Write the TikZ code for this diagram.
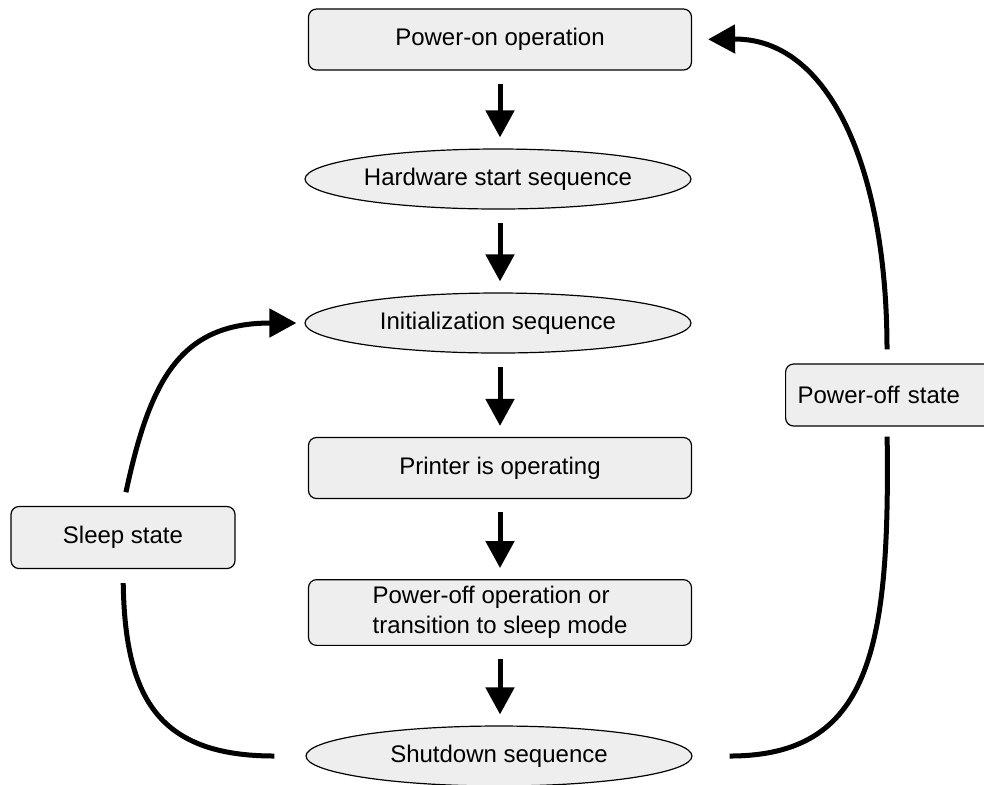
\documentclass[tikz,border=0pt]{standalone}
\usepackage{fontspec}
\setmainfont{Liberation Sans}
\usepackage{tikz}
\usetikzlibrary{shapes.geometric, arrows.meta}
\definecolor{StepGray}{HTML}{EEEEEE}
\tikzset{
  stepbox/.style={rectangle, rounded corners=4pt, draw=black, line width=0.6pt, fill=StepGray, minimum width=191.5pt, minimum height=30.5pt, font=\fontsize{12}{15}\selectfont, align=center},
  seqellipse/.style={ellipse, draw=black, line width=0.6pt, fill=StepGray, minimum width=193pt, minimum height=30pt, inner sep=0pt, font=\fontsize{12}{15}\selectfont, align=center},
  statebox/.style={rectangle, rounded corners=4pt, draw=black, line width=0.6pt, fill=StepGray, minimum height=31pt, font=\fontsize{12}{15}\selectfont},
  downarrow/.style={-{Triangle[width=14pt,length=13.5pt]}, line width=2.5pt, shorten <=6.5pt, shorten >=5.5pt},
  loopline/.style={line width=2.5pt},
  looparrow/.style={-{Triangle[width=14pt,length=13.5pt]}, line width=2.5pt}
}

\begin{document}
\begin{tikzpicture}[x=0.5pt, y=-0.5pt]
  \useasboundingbox (0,0) rectangle (984,784);

  % main sequence
  \node[stepbox] (pon) at (500,39.5) {Power-on operation};
  \node[seqellipse] (hw) at (498,179) {Hardware start sequence};
  \node[seqellipse] (init) at (498,323) {Initialization sequence};
  \node[stepbox] (oper) at (500,468) {Printer is operating};
  \node[stepbox, align=left] (poff) at (500,612.5) {Power-off operation or\\transition to sleep mode};
  \node[seqellipse] (shut) at (499,756) {Shutdown sequence};

  % side states
  \node[statebox, minimum width=112pt] (sleep) at (123,537.5) {Sleep state};
  \node[statebox, anchor=west, inner xsep=6pt, text width=100pt, align=left] (poffst) at (785,395) {Power-off state};

  \draw[downarrow] (pon.south) -- (pon.south |- hw.north);
  \draw[downarrow] (pon.south |- hw.south) -- (pon.south |- init.north);
  \draw[downarrow] (pon.south |- init.south) -- (oper.north);
  \draw[downarrow] (oper.south) -- (poff.north);
  \draw[downarrow] (poff.south) -- (poff.south |- shut.north);

  % sleep loop
  \draw[loopline, shorten <=15.5pt, shorten >=7pt] (shut.west) .. controls (160,756) and (125,700) .. (sleep.south);
  \draw[looparrow, shorten <=7pt, shorten >=4pt] (sleep.north) .. controls (150,380) and (180,323) .. (init.west);

  % power-off loop
  \coordinate (pslow) at ([xshift=51pt]poffst.south west);
  \coordinate (pshigh) at ([xshift=51pt]poffst.north west);
  \draw[loopline, shorten <=18.5pt, shorten >=5pt] (shut.east) .. controls (870,756) and (890,650) .. (pslow);
  \draw[looparrow, shorten <=7pt, shorten >=8pt] (pshigh) .. controls (887,170) and (830,38) .. (pon.east);
\end{tikzpicture}
\end{document}
